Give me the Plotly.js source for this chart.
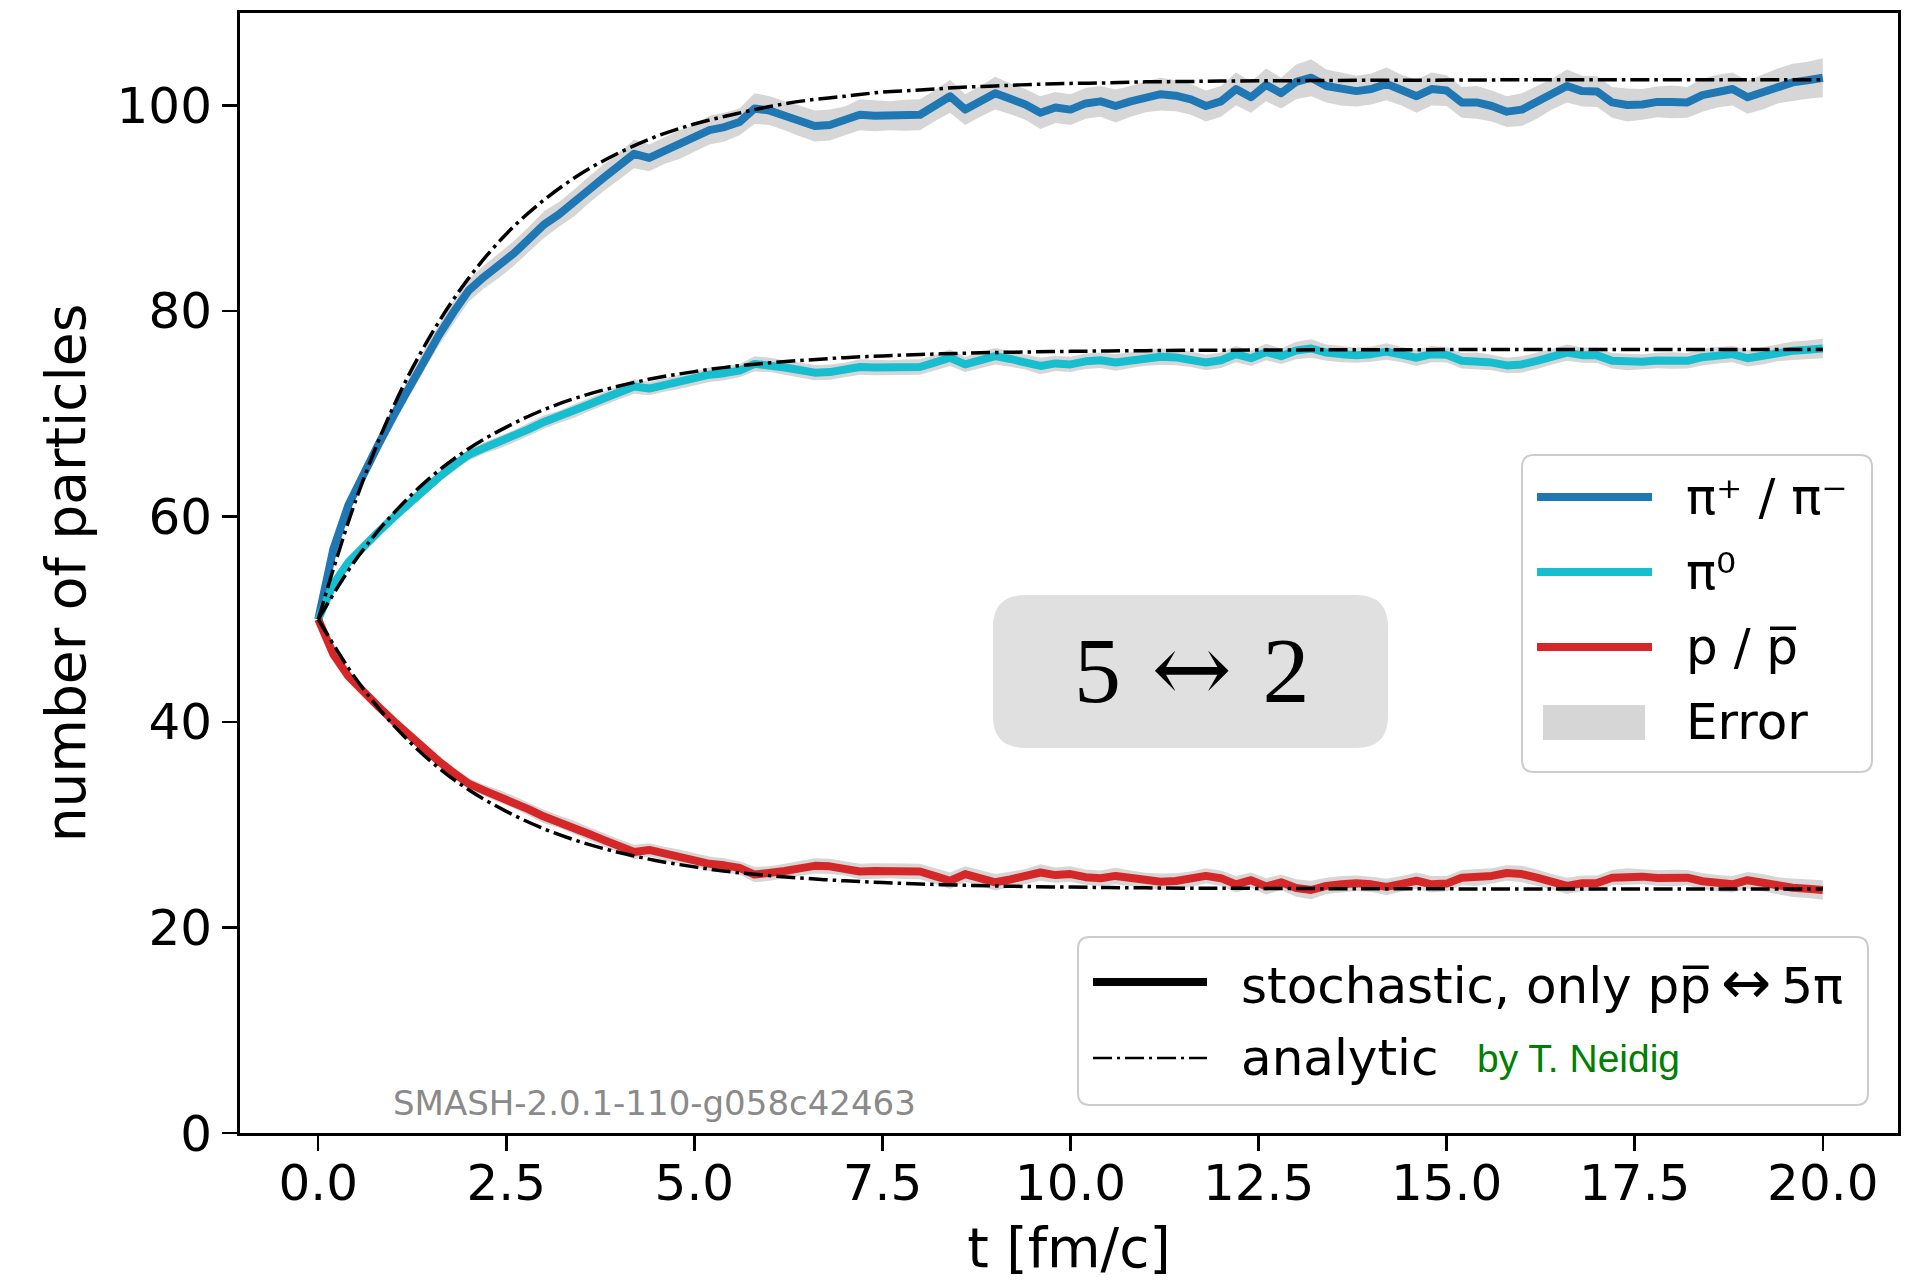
<!DOCTYPE html>
<html><head><meta charset="utf-8">
<script src="https://cdn.plot.ly/plotly-3.0.1.min.js"></script>
<style>html,body{margin:0;padding:0;background:#fff;} #chart{width:1907px;height:1280px;}</style>
</head><body><div id="chart"></div>
<script>
// ---------------- data ----------------
const time = [0,0.2,0.4,0.6,0.8,1,1.2,1.4,1.6,1.8,
  2,2.2,2.4,2.6,2.8,3,3.2,3.4,3.6,3.8,
  4,4.2,4.4,4.6,4.8,5,5.2,5.4,5.6,5.8,
  6,6.2,6.4,6.6,6.8,7,7.2,7.4,7.6,7.8,
  8,8.2,8.4,8.6,8.8,9,9.2,9.4,9.6,9.8,
  10,10.2,10.4,10.6,10.8,11,11.2,11.4,11.6,11.8,
  12,12.2,12.4,12.6,12.8,13,13.2,13.4,13.6,13.8,
  14,14.2,14.4,14.6,14.8,15,15.2,15.4,15.6,15.8,
  16,16.2,16.4,16.6,16.8,17,17.2,17.4,17.6,17.8,
  18,18.2,18.4,18.6,18.8,19,19.2,19.4,19.6,19.8,
  20];

const piCharged = [50.0, 56.8, 61.1, 64.2, 67.0, 69.8, 72.5, 75.1, 77.6, 79.9,
  82.0, 83.3, 84.4, 85.6, 87.0, 88.4, 89.4, 90.5, 91.8, 93.0,
  94.1, 95.3, 94.9, 95.6, 96.2, 96.8, 97.6, 97.9, 98.4, 99.7,
  99.5, 99.0, 98.5, 98.0, 98.1, 98.5, 99.1, 99.0, 99.0, 99.05,
  99.1, 100.0, 100.9, 99.6, 100.4, 101.2, 100.65, 100.1, 99.3, 99.8,
  99.6, 100.2, 100.4, 99.95, 100.4, 100.85, 101.1, 100.95, 100.6, 99.95,
  100.4, 101.6, 100.8, 102.0, 101.2, 102.3, 102.7, 101.9, 101.6, 101.4,
  101.6, 102.1, 101.5, 100.9, 101.6, 101.45, 100.3, 100.3, 99.95, 99.4,
  99.6, 100.3, 101.1, 101.9, 101.4, 101.35, 100.3, 100.05, 100.1, 100.35,
  100.35, 100.3, 101.0, 101.4, 101.6, 100.8, 101.3, 101.9, 102.25, 102.45,
  102.7];

const piZero = [50.0, 53.4, 55.55, 57.1, 58.5, 59.9, 61.25, 62.55, 63.8, 64.95,
  66.0, 66.65, 67.2, 67.8, 68.5, 69.2, 69.7, 70.25, 70.9, 71.5,
  72.05, 72.65, 72.45, 72.8, 73.1, 73.4, 73.8, 73.95, 74.2, 74.85,
  74.75, 74.5, 74.25, 74.0, 74.05, 74.25, 74.55, 74.5, 74.5, 74.53,
  74.55, 75.0, 75.45, 74.8, 75.2, 75.6, 75.33, 75.05, 74.65, 74.9,
  74.8, 75.1, 75.2, 74.98, 75.2, 75.43, 75.55, 75.48, 75.3, 74.98,
  75.2, 75.8, 75.4, 76.0, 75.6, 76.15, 76.35, 75.95, 75.8, 75.7,
  75.8, 76.05, 75.75, 75.45, 75.8, 75.73, 75.15, 75.15, 74.98, 74.7,
  74.8, 75.15, 75.55, 75.95, 75.7, 75.68, 75.15, 75.03, 75.05, 75.18,
  75.18, 75.15, 75.5, 75.7, 75.8, 75.4, 75.65, 75.95, 76.13, 76.23,
  76.35];

const proton = [50.0, 46.6, 44.45, 42.9, 41.5, 40.1, 38.75, 37.45, 36.2, 35.05,
  34.0, 33.35, 32.8, 32.2, 31.5, 30.8, 30.3, 29.75, 29.1, 28.5,
  27.95, 27.35, 27.55, 27.2, 26.9, 26.6, 26.2, 26.05, 25.8, 25.15,
  25.25, 25.5, 25.75, 26.0, 25.95, 25.75, 25.45, 25.5, 25.5, 25.47,
  25.45, 25.0, 24.55, 25.2, 24.8, 24.4, 24.67, 24.95, 25.35, 25.1,
  25.2, 24.9, 24.8, 25.02, 24.8, 24.57, 24.45, 24.52, 24.7, 25.02,
  24.8, 24.2, 24.6, 24.0, 24.4, 23.85, 23.65, 24.05, 24.2, 24.3,
  24.2, 23.95, 24.25, 24.55, 24.2, 24.27, 24.85, 24.85, 25.02, 25.3,
  25.2, 24.85, 24.45, 24.05, 24.3, 24.32, 24.85, 24.97, 24.95, 24.82,
  24.82, 24.85, 24.5, 24.3, 24.2, 24.6, 24.35, 24.05, 23.87, 23.77,
  23.65];

const errPiCharged = [0.0, 0.4, 0.6, 0.7, 0.8, 0.9, 0.9, 1.0, 1.0, 1.1,
  1.1, 1.1, 1.2, 1.2, 1.2, 1.3, 1.2, 1.3, 1.3, 1.3,
  1.3, 1.4, 1.3, 1.3, 1.4, 1.3, 1.4, 1.4, 1.3, 1.5,
  1.4, 1.4, 1.5, 1.5, 1.5, 1.4, 1.5, 1.5, 1.4, 1.5,
  1.5, 1.5, 1.6, 1.5, 1.5, 1.6, 1.5, 1.5, 1.6, 1.5,
  1.5, 1.5, 1.5, 1.6, 1.5, 1.5, 1.6, 1.5, 1.5, 1.5,
  1.5, 1.6, 1.5, 1.6, 1.5, 1.7, 1.8, 1.6, 1.6, 1.5,
  1.5, 1.6, 1.5, 1.6, 1.6, 1.5, 1.5, 1.6, 1.5, 1.5,
  1.6, 1.6, 1.5, 1.6, 1.5, 1.5, 1.5, 1.6, 1.5, 1.5,
  1.6, 1.5, 1.6, 1.6, 1.6, 1.6, 1.7, 1.7, 1.8, 1.8,
  1.9];

const errPiZero = [0.0, 0.2, 0.3, 0.35, 0.4, 0.45, 0.45, 0.5, 0.5, 0.55,
  0.55, 0.55, 0.6, 0.6, 0.6, 0.65, 0.6, 0.65, 0.65, 0.65,
  0.65, 0.7, 0.65, 0.65, 0.7, 0.65, 0.7, 0.7, 0.65, 0.75,
  0.7, 0.7, 0.75, 0.75, 0.75, 0.7, 0.75, 0.75, 0.7, 0.75,
  0.75, 0.75, 0.8, 0.75, 0.75, 0.8, 0.75, 0.75, 0.8, 0.75,
  0.75, 0.75, 0.75, 0.8, 0.75, 0.75, 0.8, 0.75, 0.75, 0.75,
  0.75, 0.8, 0.75, 0.8, 0.75, 0.85, 0.9, 0.8, 0.8, 0.75,
  0.75, 0.8, 0.75, 0.8, 0.8, 0.75, 0.75, 0.8, 0.75, 0.75,
  0.8, 0.8, 0.75, 0.8, 0.75, 0.75, 0.75, 0.8, 0.75, 0.75,
  0.8, 0.75, 0.8, 0.8, 0.8, 0.8, 0.85, 0.85, 0.9, 0.9,
  0.95];

const errProton = [0.0, 0.2, 0.3, 0.35, 0.4, 0.45, 0.45, 0.5, 0.5, 0.55,
  0.55, 0.55, 0.6, 0.6, 0.6, 0.65, 0.6, 0.65, 0.65, 0.65,
  0.65, 0.7, 0.65, 0.65, 0.7, 0.65, 0.7, 0.7, 0.65, 0.75,
  0.7, 0.7, 0.75, 0.75, 0.75, 0.7, 0.75, 0.75, 0.7, 0.75,
  0.75, 0.75, 0.8, 0.75, 0.75, 0.8, 0.75, 0.75, 0.8, 0.75,
  0.75, 0.75, 0.75, 0.8, 0.75, 0.75, 0.8, 0.75, 0.75, 0.75,
  0.75, 0.8, 0.75, 0.8, 0.75, 0.85, 0.9, 0.8, 0.8, 0.75,
  0.75, 0.8, 0.75, 0.8, 0.8, 0.75, 0.75, 0.8, 0.75, 0.75,
  0.8, 0.8, 0.75, 0.8, 0.75, 0.75, 0.75, 0.8, 0.75, 0.75,
  0.8, 0.75, 0.8, 0.8, 0.8, 0.8, 0.85, 0.85, 0.9, 0.9,
  0.95];

const timeAnalytic = [0,0.5,1,1.5,2,2.5,3,3.5,4,4.5,5,5.5,6,6.5,7,7.5,8,8.5,9,9.5,10,10.5,11,11.5,12,13,14,15,16,17,18,19,20];
const analyticPiCharged = [50.0,61.6,70.7,77.7,83.2,87.5,90.8,93.4,95.4,97.0,98.2,99.1,99.9,100.5,100.9,101.3,101.5,101.75,101.9,102.05,102.15,102.2,102.3,102.33,102.37,102.42,102.45,102.47,102.5,102.5,102.5,102.5,102.5];
const analyticPiZero = [50.0,55.8,60.3,63.85,66.6,68.7,70.4,71.7,72.7,73.5,74.1,74.6,74.95,75.23,75.46,75.63,75.77,75.87,75.96,76.02,76.07,76.11,76.14,76.17,76.18,76.21,76.23,76.24,76.25,76.25,76.25,76.25,76.25];
const analyticProton = [50.0,44.2,39.7,36.15,33.4,31.3,29.6,28.3,27.3,26.5,25.9,25.4,25.05,24.77,24.54,24.37,24.23,24.13,24.04,23.98,23.93,23.89,23.86,23.83,23.82,23.79,23.77,23.76,23.75,23.75,23.75,23.75,23.75];

const xTickValues = [0, 2.5, 5, 7.5, 10, 12.5, 15, 17.5, 20];
const xTickLabels = ['0.0','2.5','5.0','7.5','10.0','12.5','15.0','17.5','20.0'];
const yTickValues = [0, 20, 40, 60, 80, 100];
const yTickLabels = ['0','20','40','60','80','100'];

const seriesNames = ['π⁺ / π⁻', 'π⁰', 'p / p\u0305'];
const seriesColors = ['#1f77b4', '#17becf', '#d62728'];
const bandColor = '#d6d6d6';

// ---------------- layout geometry (pixels) ----------------
const W = 1907, H = 1280;
const ML = 240, MR = 9, MT = 13, MB = 147;
const PW = W - ML - MR, PH = H - MT - MB;
const px = x => (x - ML) / PW;
const py = y => (H - MB - y) / PH;

function roundRect(x0, y0, x1, y1, r) {
  const X0 = px(x0), X1 = px(x1), YT = py(y0), YB = py(y1);
  const rx = r / PW, ry = r / PH;
  return `M${X0+rx},${YT} L${X1-rx},${YT} Q${X1},${YT} ${X1},${YT-ry} L${X1},${YB+ry} Q${X1},${YB} ${X1-rx},${YB} ` +
         `L${X0+rx},${YB} Q${X0},${YB} ${X0},${YB+ry} L${X0},${YT-ry} Q${X0},${YT} ${X0+rx},${YT} Z`;
}

// ---------------- traces ----------------
const traces = [];
const seriesList = [[piCharged, errPiCharged], [piZero, errPiZero], [proton, errProton]];
seriesList.forEach(([vals, errs], i) => {
  traces.push({x: time, y: vals.map((v, k) => v - errs[k]), type: 'scatter', mode: 'lines',
    line: {width: 0, color: bandColor}, showlegend: false, hoverinfo: 'skip'});
  traces.push({x: time, y: vals.map((v, k) => v + errs[k]), type: 'scatter', mode: 'lines',
    fill: 'tonexty', fillcolor: bandColor, line: {width: 0, color: bandColor},
    name: 'Error', showlegend: false, hoverinfo: 'skip'});
});
seriesList.forEach(([vals], i) => {
  traces.push({x: time, y: vals, type: 'scatter', mode: 'lines', name: seriesNames[i],
    line: {color: seriesColors[i], width: 8}, showlegend: false});
});
const analyticDash = '19px,5px,3.5px,5px';
[analyticPiCharged, analyticPiZero, analyticProton].forEach(vals => {
  traces.push({x: timeAnalytic, y: vals, type: 'scatter', mode: 'lines', name: 'analytic',
    line: {color: 'black', width: 3.5, dash: analyticDash, shape: 'spline', smoothing: 1}, showlegend: false});
});

// ---------------- decorations: legends, label box, watermark ----------------
const FONT = 'DejaVu Sans, sans-serif';
const SERIF = '"Liberation Serif", "Times New Roman", Times, serif';
const LEGEND_SIZE = 50;
const shapes = [];
const annotations = [];

// legend 1
shapes.push({type: 'path', xref: 'paper', yref: 'paper', path: roundRect(1522, 455, 1872, 772, 12),
  fillcolor: 'rgba(255,255,255,0.8)', line: {color: '#cccccc', width: 2}, layer: 'above'});
const leg1Rows = [497, 572, 647];
leg1Rows.forEach((yy, i) => {
  shapes.push({type: 'line', xref: 'paper', yref: 'paper', x0: px(1537), x1: px(1652), y0: py(yy), y1: py(yy),
    line: {color: seriesColors[i], width: 8}, layer: 'above'});
  annotations.push({xref: 'paper', yref: 'paper', x: px(1684), y: py(yy), xanchor: 'left', yanchor: 'middle',
    text: seriesNames[i], showarrow: false, font: {family: FONT, size: LEGEND_SIZE, color: 'black'}});
});
shapes.push({type: 'rect', xref: 'paper', yref: 'paper', x0: px(1543), x1: px(1645), y0: py(705), y1: py(740),
  fillcolor: bandColor, line: {width: 0}, layer: 'above'});
annotations.push({xref: 'paper', yref: 'paper', x: px(1684), y: py(722), xanchor: 'left', yanchor: 'middle',
  text: 'Error', showarrow: false, font: {family: FONT, size: LEGEND_SIZE, color: 'black'}});

// legend 2
shapes.push({type: 'path', xref: 'paper', yref: 'paper', path: roundRect(1078, 937, 1868, 1105, 12),
  fillcolor: 'rgba(255,255,255,0.8)', line: {color: '#cccccc', width: 2}, layer: 'above'});
shapes.push({type: 'line', xref: 'paper', yref: 'paper', x0: px(1093), x1: px(1207), y0: py(982), y1: py(982),
  line: {color: 'black', width: 8}, layer: 'above'});
shapes.push({type: 'line', xref: 'paper', yref: 'paper', x0: px(1093), x1: px(1207), y0: py(1058), y1: py(1058),
  line: {color: 'black', width: 2.5, dash: '19px,5px,3px,5px'}, layer: 'above'});
annotations.push({xref: 'paper', yref: 'paper', x: px(1239), y: py(982), xanchor: 'left', yanchor: 'middle',
  text: 'stochastic, only pp\u0305\u2009<span style="font-size:60px">↔</span>\u20095π', showarrow: false,
  font: {family: FONT, size: LEGEND_SIZE, color: 'black'}});
annotations.push({xref: 'paper', yref: 'paper', x: px(1239), y: py(1058), xanchor: 'left', yanchor: 'middle',
  text: 'analytic', showarrow: false, font: {family: FONT, size: LEGEND_SIZE, color: 'black'}});
annotations.push({xref: 'paper', yref: 'paper', x: px(1475), y: py(1058), xanchor: 'left', yanchor: 'middle',
  text: 'by T. Neidig', showarrow: false, font: {family: 'Liberation Sans, Arial, sans-serif', size: 39, color: '#008000'}});

// reaction box
shapes.push({type: 'path', xref: 'paper', yref: 'paper', path: roundRect(993, 595, 1388, 748, 32),
  fillcolor: '#e0e0e0', line: {width: 0}, layer: 'above'});
annotations.push({xref: 'paper', yref: 'paper', x: px(1191), y: py(669), xanchor: 'center', yanchor: 'middle',
  text: '5<span style="font-family:DejaVu Serif;font-size:96px"> ↔ </span>2', showarrow: false,
  font: {family: SERIF, size: 94, color: 'black'}});

// version watermark
annotations.push({xref: 'paper', yref: 'paper', x: px(654), y: py(1103), xanchor: 'center', yanchor: 'middle',
  text: 'SMASH-2.0.1-110-g058c42463', showarrow: false, font: {family: FONT, size: 34, color: '#8a8a8a'}});

const axisCommon = {
  showgrid: false, zeroline: false, showline: true, mirror: true, linecolor: 'black', linewidth: 3,
  ticks: 'outside', ticklen: 15, tickwidth: 2.5, tickcolor: 'black',
  tickfont: {family: FONT, size: 50, color: 'black'}, automargin: false
};

const layout = {
  width: W, height: H,
  margin: {l: ML, r: MR, t: MT, b: MB, pad: 0},
  paper_bgcolor: 'white', plot_bgcolor: 'white',
  showlegend: false,
  font: {family: FONT, color: 'black'},
  xaxis: Object.assign({}, axisCommon, {
    range: [-1.04, 21.0], tickmode: 'array', tickvals: xTickValues, ticktext: xTickLabels,
    ticklabelstandoff: -11,
    title: {text: 't [fm/c]', font: {family: FONT, size: 55, color: 'black'}, standoff: 29}
  }),
  yaxis: Object.assign({}, axisCommon, {
    range: [0, 109], tickmode: 'array', tickvals: yTickValues, ticktext: yTickLabels,
    ticklabelstandoff: 0,
    title: {text: 'number of particles', font: {family: FONT, size: 55, color: 'black'}, standoff: 14}
  }),
  shapes: shapes,
  annotations: annotations
};

Plotly.newPlot('chart', traces, layout, {staticPlot: true, displayModeBar: false}).then(() => {
  document.querySelectorAll('.scatterlayer .js-line').forEach(p => {
    p.style.strokeLinejoin = 'round';
  });
});
</script>
</body></html>
